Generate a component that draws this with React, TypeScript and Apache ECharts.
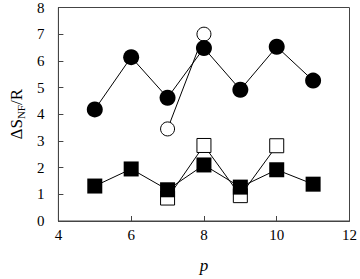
import React, { useEffect, useRef } from "react";
import * as echarts from "echarts";

const xTicks = [4, 6, 8, 10, 12];
const filledCircles: [number, number][] = [
  [5, 4.18], [6, 6.14], [7, 4.62], [8, 6.48], [9, 4.92], [10, 6.53], [11, 5.26],
];
const openCircles: [number, number][] = [
  [7, 3.45], [8, 7.0],
];
const filledSquares: [number, number][] = [
  [5, 1.31], [6, 1.95], [7, 1.17], [8, 2.1], [9, 1.27], [10, 1.92], [11, 1.38],
];
const openSquares: [number, number][] = [
  [7, 0.86], [8, 2.83], [9, 0.95], [10, 2.82],
];

const FONT = "Liberation Serif";

export default function App() {
  const ref = useRef<HTMLDivElement>(null);
  useEffect(() => {
    if (!ref.current) return;
    const chart = echarts.init(ref.current, undefined, { renderer: "svg" });
    const lineStyle = { color: "#000", width: 1 };
    chart.setOption({
      animation: false,
      backgroundColor: "#fff",
      textStyle: { fontFamily: FONT },
      grid: { left: 43, top: 6, right: 8, bottom: 54, show: true, borderColor: "#444", borderWidth: 1 },
      xAxis: {
        type: "value",
        min: 4,
        max: 12,
        interval: 2,
        name: "p",
        nameLocation: "middle",
        nameGap: 36,
        nameTextStyle: { fontFamily: FONT, fontSize: 17, fontStyle: "italic", color: "#000" },
        axisLine: { lineStyle: { color: "#444" } },
        axisTick: { inside: true, length: 5, lineStyle: { color: "#444" } },
        axisLabel: {
          fontFamily: FONT, fontSize: 15, color: "#000", margin: 6,
          formatter: (v: number) => (xTicks.includes(v) ? String(v) : ""),
        },
        splitLine: { show: false },
      },
      yAxis: {
        type: "value",
        min: 0,
        max: 8,
        interval: 1,
        name: "{a|ΔS}{s|NF}{a|/R}",
        nameLocation: "middle",
        nameGap: 27,
        nameTextStyle: {
          fontFamily: FONT, color: "#000",
          rich: {
            a: { fontFamily: FONT, fontSize: 17, color: "#000" },
            s: { fontFamily: FONT, fontSize: 11, color: "#000", verticalAlign: "bottom", padding: [8, 0, 0, 0] },
          },
        },
        axisLine: { lineStyle: { color: "#444" } },
        axisTick: { inside: true, length: 5, lineStyle: { color: "#444" } },
        axisLabel: { fontFamily: FONT, fontSize: 15, color: "#000", margin: 14 },
        splitLine: { show: false },
      },
      series: [
        {
          type: "line", data: openCircles, symbol: "circle", symbolSize: 14,
          lineStyle, itemStyle: { color: "#fff", borderColor: "#000", borderWidth: 1 }, z: 2,
        },
        {
          type: "line", data: openSquares, symbol: "rect", symbolSize: 14,
          lineStyle, itemStyle: { color: "#fff", borderColor: "#000", borderWidth: 1 }, z: 2,
        },
        {
          type: "line", data: filledCircles, symbol: "circle", symbolSize: 16,
          lineStyle, itemStyle: { color: "#000" }, z: 3,
        },
        {
          type: "line", data: filledSquares, symbol: "rect", symbolSize: 15,
          lineStyle, itemStyle: { color: "#000" }, z: 3,
        },
      ],
    });
    return () => chart.dispose();
  }, []);
  return <div ref={ref} style={{ width: 360, height: 279, position: "absolute", left: 0, top: 0 }} />;
}
